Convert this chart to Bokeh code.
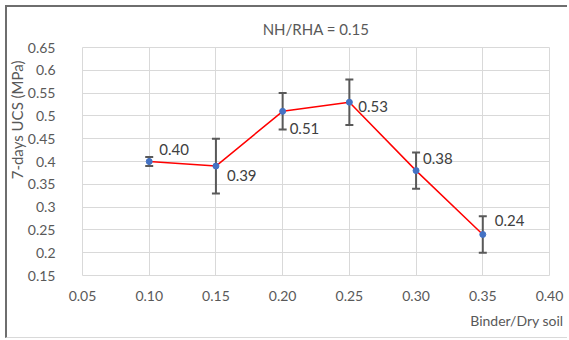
from bokeh.plotting import figure
from bokeh.models import ColumnDataSource, Whisker, FixedTicker, Range1d, Title
from bokeh.core.properties import value
from bokeh.embed import file_html
from bokeh.resources import INLINE

binder = [0.10, 0.15, 0.20, 0.25, 0.30, 0.35]
ucs = [0.40, 0.39, 0.51, 0.53, 0.38, 0.24]
err = [0.01, 0.06, 0.04, 0.05, 0.04, 0.04]
labels = ["0.40", "0.39", "0.51", "0.53", "0.38", "0.24"]
label_dx = [10, 11, 7, 9, 7, 12]
label_dy = [-12, 9, 17, 4, -12, -14]

x_ticks = [0.05, 0.10, 0.15, 0.20, 0.25, 0.30, 0.35, 0.40]
y_ticks = [0.15, 0.2, 0.25, 0.3, 0.35, 0.4, 0.45, 0.5, 0.55, 0.6, 0.65]
y_tick_labels = ["0.15", "0.2", "0.25", "0.3", "0.35", "0.4", "0.45", "0.5", "0.55", "0.6", "0.65"]
x_tick_labels = ["0.05", "0.10", "0.15", "0.20", "0.25", "0.30", "0.35", "0.40"]

FONT = "Lato"
TXT = "#595959"

src = ColumnDataSource(dict(
    x=binder, y=ucs,
    lo=[u - e for u, e in zip(ucs, err)],
    hi=[u + e for u, e in zip(ucs, err)],
    lab=labels, dx=label_dx, dy=label_dy,
))

p = figure(width=562, height=333, output_backend="svg", toolbar_location=None,
           x_range=Range1d(0.05, 0.40), y_range=Range1d(0.15, 0.65),
           min_border_left=73, min_border_right=20, min_border_top=40, min_border_bottom=65)
p.styles = {"margin-left": "5px", "margin-top": "5px",
            "border-left": "2px solid #6e6e6e", "border-top": "2px solid #6e6e6e",
            "border-right": "none", "border-bottom": "1px solid #d9d9d9"}

p.title.text = "NH/RHA = 0.15"
p.title.align = "center"
p.title.text_font = FONT
p.title.text_font_size = "15px"
p.title.text_font_style = "normal"
p.title.text_color = TXT
p.title.standoff = 20

p.add_layout(Title(text="7-days UCS (MPa)", align="right", offset=13,
                   text_font=FONT, text_font_size="15px", text_font_style="normal",
                   text_color=TXT, standoff=-3), "left")
p.add_layout(Title(text="Binder/Dry soil", align="right", offset=-14,
                   text_font=FONT, text_font_size="14px", text_font_style="normal",
                   text_color=TXT, standoff=12), "below")

p.outline_line_color = "#d9d9d9"
p.outline_line_width = 1
p.background_fill_color = "white"
p.border_fill_color = "white"

for ax in (p.xaxis[0], p.yaxis[0]):
    ax.axis_line_color = None
    ax.major_tick_line_color = None
    ax.minor_tick_line_color = None
    ax.major_label_text_font = FONT
    ax.major_label_text_font_size = "14px"
    ax.major_label_text_color = TXT

p.xaxis.ticker = FixedTicker(ticks=x_ticks)
p.yaxis.ticker = FixedTicker(ticks=y_ticks)
p.xaxis.major_label_overrides = {t: s for t, s in zip(x_ticks, x_tick_labels)}
p.yaxis.major_label_overrides = {t: s for t, s in zip(y_ticks, y_tick_labels)}
p.xaxis.major_label_standoff = 9
p.yaxis.major_label_standoff = 21

p.xgrid.ticker = FixedTicker(ticks=x_ticks)
p.ygrid.ticker = FixedTicker(ticks=y_ticks)
p.xgrid.grid_line_color = "#d9d9d9"
p.ygrid.grid_line_color = "#d9d9d9"

p.line("x", "y", source=src, line_color="#ff0000", line_width=1.5)

w = Whisker(base="x", lower="lo", upper="hi", source=src,
            line_color="#595959", line_width=2)
for h in (w.upper_head, w.lower_head):
    h.line_color = "#595959"
    h.line_width = 2
    h.size = 8
p.add_layout(w)

p.scatter("x", "y", source=src, size=6, fill_color="#4472c4", line_color="#4472c4")

p.text("x", "y", text="lab", source=src, x_offset="dx", y_offset="dy",
       text_font=value(FONT), text_font_size="15px", text_color="#404040",
       text_baseline="middle", text_align="left")

open("out.html", "w").write(file_html(p, INLINE))
